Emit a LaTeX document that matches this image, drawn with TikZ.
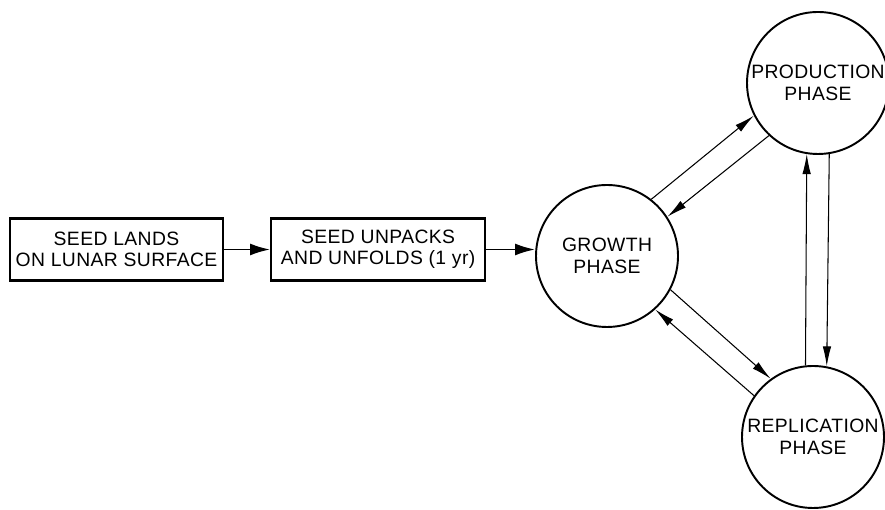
\documentclass[tikz,border=0pt]{standalone}
\usepackage{fontspec}
\setmainfont{Liberation Sans}[LetterSpace=2]
\usetikzlibrary{%
  arrows.meta,%
  positioning,% wg. " of "
  calc
}

\begin{document}
\begin{tikzpicture}[
  font=\fontsize{11}{12.2}\selectfont,
  >={Latex[length=4mm,width=1.7mm]},
  line width=0.6pt,
  seedbox/.style={draw,line width=1.2pt,align=center,inner sep=0pt,
    minimum width=4.26cm,minimum height=1.24cm},
  phase/.style={draw,circle,line width=1.1pt,align=center,inner sep=0pt,
    minimum size=2.84cm},
  flow/.style={-{Latex[length=4mm,width=2.4mm]},line width=1.1pt},
]

\useasboundingbox (0,0) rectangle (17.7,10.2);

% the two steps before the cycle
\node[seedbox] (lands) at (2.33,5.21) {SEED LANDS\\ON LUNAR SURFACE};
\node[seedbox,minimum width=4.28cm,right=0.92cm of lands] (unpack)
  {SEED UNPACKS\\AND UNFOLDS (1 yr)};

% the three phases
\node[phase] (growth) at (12.14,5.08) {GROWTH\\PHASE};
\node[phase] (production) at (16.36,8.54) {PRODUCTION\\PHASE};
\node[phase] (replication) at (16.26,1.46) {REPLICATION\\PHASE};

\draw[flow] (lands.east) -- (unpack.west);
\draw[flow] (unpack.east) -- (unpack.east -| growth.west);

% cycle connectors
\draw[->] (growth.52) -- (production.207);
\draw[->] (production.227) -- (growth.33);
\draw[->] (growth.-28) -- (replication.126);
\draw[->] (replication.145) -- (growth.-48);
\draw[->] (replication.96) -- (production.261);
\draw[->] (production.279) -- (replication.79);

\end{tikzpicture}
\end{document}
